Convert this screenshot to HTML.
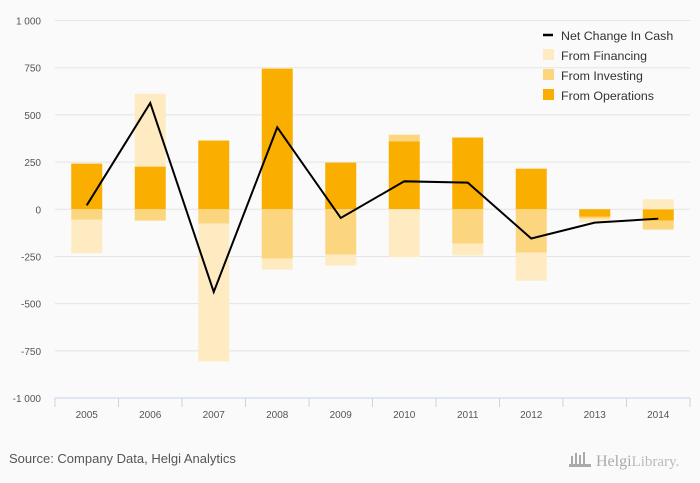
<!DOCTYPE html>
<html><head><meta charset="utf-8"><style>
body{margin:0;background:#fafafa;}
svg{display:block;font-family:"Liberation Sans",sans-serif;}
</style></head><body>
<svg id="chart" width="700" height="483" viewBox="0 0 700 483">
<rect width="700" height="483" fill="#fafafa"/>
<g id="grid"></g><g id="bars"></g><g id="line"></g><g id="axes"></g>
<g font-size="12.4" fill="#333">
<line x1="543" y1="35" x2="553" y2="35" stroke="#000" stroke-width="2.5"/>
<text x="561" y="40">Net Change In Cash</text>
<rect x="543" y="49" width="11" height="11" fill="#feebc2"/>
<text x="561" y="60">From Financing</text>
<rect x="543" y="69" width="11" height="11" fill="#fcd57f"/>
<text x="561" y="80">From Investing</text>
<rect x="543" y="89" width="11" height="11" fill="#f9ae00"/>
<text x="561" y="100">From Operations</text>
</g>
<text x="9" y="463" font-size="13" fill="#555">Source: Company Data, Helgi Analytics</text>
<g fill="#aaa">
<rect x="571" y="456" width="2" height="10"/><rect x="575" y="453" width="2" height="13"/><rect x="579" y="455" width="2" height="11"/><rect x="583" y="452" width="2" height="14"/>
<rect x="569" y="464" width="22" height="3"/>
<text x="596" y="466" font-size="16" font-family="Liberation Serif,serif" fill="#aaa">Helgi<tspan font-size="15" fill="#bbb">Library.</tspan></text>
</g>
</svg>
<script>
const categories=["2005","2006","2007","2008","2009","2010","2011","2012","2013","2014"];
const operations=[242,226,364,745,247,359,380,215,-40,-60];
const investing=[-55,-60,-76,-261,-240,36,-182,-229,-10,-48];
const financing=[-178,386,-730,-59,-58,-254,-63,-149,-20,53];
const netChange=[21,563,-438,434,-46,148,141,-155,-71,-50];
const yTicks=[1000,750,500,250,0,-250,-500,-750,-1000];
const yTickLabels=["1 000","750","500","250","0","-250","-500","-750","-1 000"];
const NS="http://www.w3.org/2000/svg";
const X0=55,X1=690,YTOP=20.5,YBOT=398;
const y=v=>YTOP+(1000-v)*(YBOT-YTOP)/2000;
const bw=(X1-X0)/categories.length;
const xc=i=>X0+bw*(i+0.5);
function mk(tag,attrs,parent){const e=document.createElementNS(NS,tag);for(const k in attrs)e.setAttribute(k,attrs[k]);document.getElementById(parent).appendChild(e);return e;}
yTicks.forEach((t,i)=>{
  if(t>-1000){const l=mk('line',{x1:X0,x2:X1,y1:y(t),y2:y(t),stroke:'#e4e4e4','stroke-width':1},'grid');
  
  }
  const tx=mk('text',{x:41,y:y(t)+4,'text-anchor':'end','font-size':10,fill:'#555'},'axes');
  tx.textContent=yTickLabels[i];
  
  
});
const series=[[operations,'#f9ae00','operations'],[investing,'#fcd57f','investing'],[financing,'#feebc2','financing']];
categories.forEach((c,i)=>{
  let pos=0,neg=0;
  series.forEach(([arr,col,nm])=>{
    const v=arr[i];let a,b;
    if(v>=0){a=pos;b=pos+v;pos=b;}else{a=neg;b=neg+v;neg=b;}
    const top=y(Math.max(a,b)),h=Math.abs(y(a)-y(b));
    const r=mk('rect',{x:xc(i)-15.5,y:top,width:31,height:h,fill:col},'bars');
    
    
  });
  const tl=mk('text',{x:xc(i),y:418,'text-anchor':'middle','font-size':10,fill:'#555'},'axes');
  tl.textContent=c;
  
  
});
for(let i=0;i<=categories.length;i++){
  const tk=mk('line',{x1:X0+bw*i,x2:X0+bw*i,y1:YBOT,y2:YBOT+9,stroke:'#c6d4ea'},'axes');
  
  
}
const ax=mk('line',{x1:X0,x2:X1,y1:YBOT,y2:YBOT,stroke:'#c6d4ea'},'axes');


const pl=mk('polyline',{points:netChange.map((v,i)=>xc(i)+','+y(v)).join(' '),fill:'none',stroke:'#000','stroke-width':2,'stroke-linejoin':'miter'},'line');


</script>
</body></html>
